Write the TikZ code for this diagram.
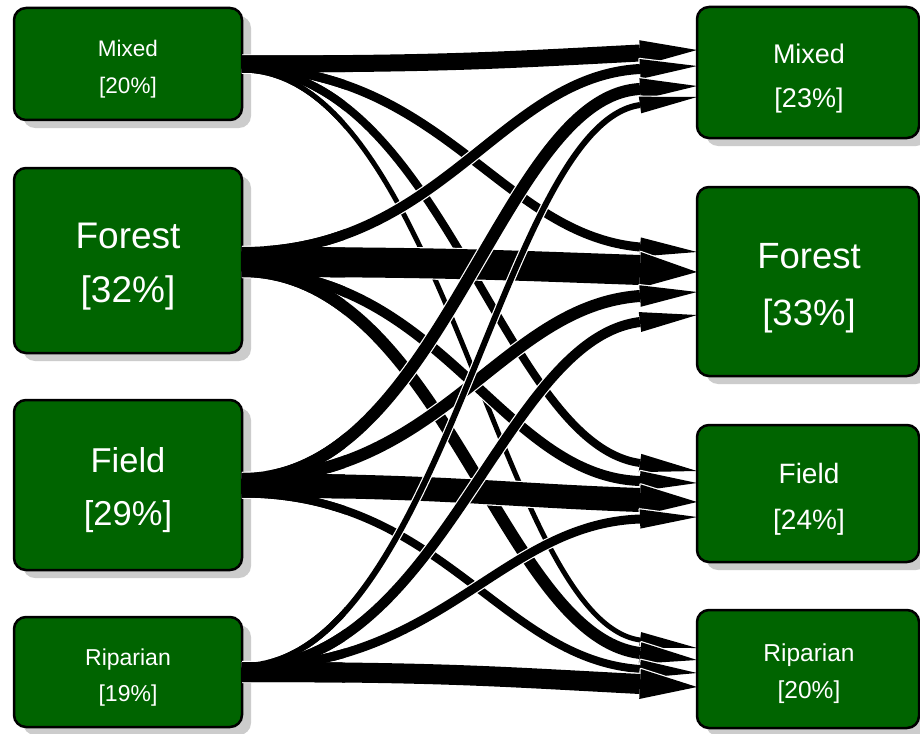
\documentclass[tikz,border=0pt]{standalone}
\usepackage{fontspec}
\setmainfont{Liberation Sans}
\usetikzlibrary{calc,shadows}
\definecolor{boxgreen}{RGB}{0,100,0}
\definecolor{shade}{RGB}{204,204,204}
\newcommand\fsz[1]{\fontsize{#1pt}{#1pt}\selectfont}
\tikzset{
  box/.style={draw=black, line width=2.5pt, fill=boxgreen, rounded corners=12pt,
    inner sep=0pt, drop shadow={shadow xshift=9pt, shadow yshift=-8pt, fill=shade, opacity=1}},
  lbl/.style={text=white, anchor=base, inner sep=0pt},
  headedge/.style={draw=white, line width=2.4pt, line join=round},
  headfill/.style={fill=black},
  shaft/.style={draw=white, line width=1.2pt, double=black},
}
% id, width, start y, head-base y, tip y, head half-width
\newcommand\flowarrow[6]{%
  \coordinate (s#1) at (242,#3);
  \coordinate (e#1) at (640,#4);
  \coordinate (t#1) at (697,#5);
  \coordinate (c#1a) at (442,#3);
  \coordinate (c#1b) at ($(e#1)!-140pt!(t#1)$);
  \coordinate (h#1a) at ($(e#1)!#6pt!90:(t#1)$);
  \coordinate (h#1b) at ($(e#1)!#6pt!-90:(t#1)$);
  \draw[headedge] (h#1a) -- (t#1) -- (h#1b) -- cycle;
  \draw[shaft, double distance=#2pt] (s#1) .. controls (c#1a) and (c#1b) .. (e#1);
  \fill[headfill] (h#1a) -- (t#1) -- (h#1b) -- cycle;
}
\newcommand\flowroot[2]{\draw[black, line width=#2pt] (s#1) .. controls (c#1a) and (c#1b) .. (e#1);}
\begin{document}
\begin{tikzpicture}[x=1pt, y=-1pt]
\clip (0,0) rectangle (920,733);
\fill[white] (0,0) rectangle (920,733);
% source boxes
\node[box, minimum width=228pt, minimum height=112pt] (LM) at (128,64) {};
\node[box, minimum width=228pt, minimum height=185pt] (LF) at (128,260.5) {};
\node[box, minimum width=228pt, minimum height=170pt] (LD) at (128,485) {};
\node[box, minimum width=228pt, minimum height=110pt] (LR) at (128,672) {};
\node[lbl, font=\fsz{22.5}] (LMa) at (128,57) {Mixed};
\node[lbl, font=\fsz{22.5}] (LMb) at (128,94) {[20\%]};
\node[lbl, font=\fsz{37}] (LFa) at (128,248) {Forest};
\node[lbl, font=\fsz{37}] (LFb) at (128,302) {[32\%]};
\node[lbl, font=\fsz{34.5}] (LDa) at (128,472) {Field};
\node[lbl, font=\fsz{34.5}] (LDb) at (128,525) {[29\%]};
\node[lbl, font=\fsz{23}] (LRa) at (128,665) {Riparian};
\node[lbl, font=\fsz{23}] (LRb) at (128,701) {[19\%]};
% flows: from Mixed
\flowarrow{Mm}{17}{64}{53}{50}{12.8}
\flowarrow{Mf}{9}{68}{247}{252}{9.6}
\flowarrow{Md}{8}{68.5}{463}{471}{9.2}
\flowarrow{Mr}{5}{70}{640}{648}{8}
% from Forest
\flowarrow{Fm}{10}{252}{69}{66}{10}
\flowarrow{Ff}{30}{262}{270}{272}{18}
\flowarrow{Fd}{10}{271.5}{481}{483}{10}
\flowarrow{Fr}{12}{271}{653}{660}{10.8}
% from Field
\flowarrow{Dm}{12}{479}{89}{86}{10.8}
\flowarrow{Df}{12}{479}{296}{292}{10.8}
\flowarrow{Dd}{24}{485.5}{500}{502}{15.6}
\flowarrow{Dr}{8}{493.5}{669}{673}{9.2}
% from Riparian
\flowarrow{Rm}{6}{666}{105}{97}{8.4}
\flowarrow{Rf}{10}{668}{322}{315}{10}
\flowarrow{Rd}{9}{667.5}{519}{517}{9.6}
\flowarrow{Rr}{20}{672}{684}{687}{15}
% merged roots near the source boxes
\begin{scope}
\clip (241.5,0) rectangle (345,733);
\flowroot{Mm}{17}\flowroot{Mf}{9}\flowroot{Md}{8}\flowroot{Mr}{5}
\flowroot{Fm}{10}\flowroot{Ff}{30}\flowroot{Fd}{10}\flowroot{Fr}{12}
\flowroot{Dm}{12}\flowroot{Df}{12}\flowroot{Dd}{24}\flowroot{Dr}{8}
\flowroot{Rm}{6}\flowroot{Rf}{10}\flowroot{Rd}{9}\flowroot{Rr}{20}
\end{scope}
% target boxes
\node[box, minimum width=222pt, minimum height=131pt] (RM) at (808,72.5) {};
\node[box, minimum width=222pt, minimum height=189pt] (RF) at (808,281.5) {};
\node[box, minimum width=222pt, minimum height=137pt] (RD) at (808,493.5) {};
\node[box, minimum width=222pt, minimum height=118pt] (RR) at (808,669) {};
\node[lbl, font=\fsz{27}] (RMa) at (809,64) {Mixed};
\node[lbl, font=\fsz{27}] (RMb) at (809,107) {[23\%]};
\node[lbl, font=\fsz{36.5}] (RFa) at (809,268) {Forest};
\node[lbl, font=\fsz{36.5}] (RFb) at (809,325) {[33\%]};
\node[lbl, font=\fsz{28}] (RDa) at (809,483) {Field};
\node[lbl, font=\fsz{28}] (RDb) at (809,529) {[24\%]};
\node[lbl, font=\fsz{24.5}] (RRa) at (809,661) {Riparian};
\node[lbl, font=\fsz{24.5}] (RRb) at (809,698) {[20\%]};
\end{tikzpicture}
\end{document}
